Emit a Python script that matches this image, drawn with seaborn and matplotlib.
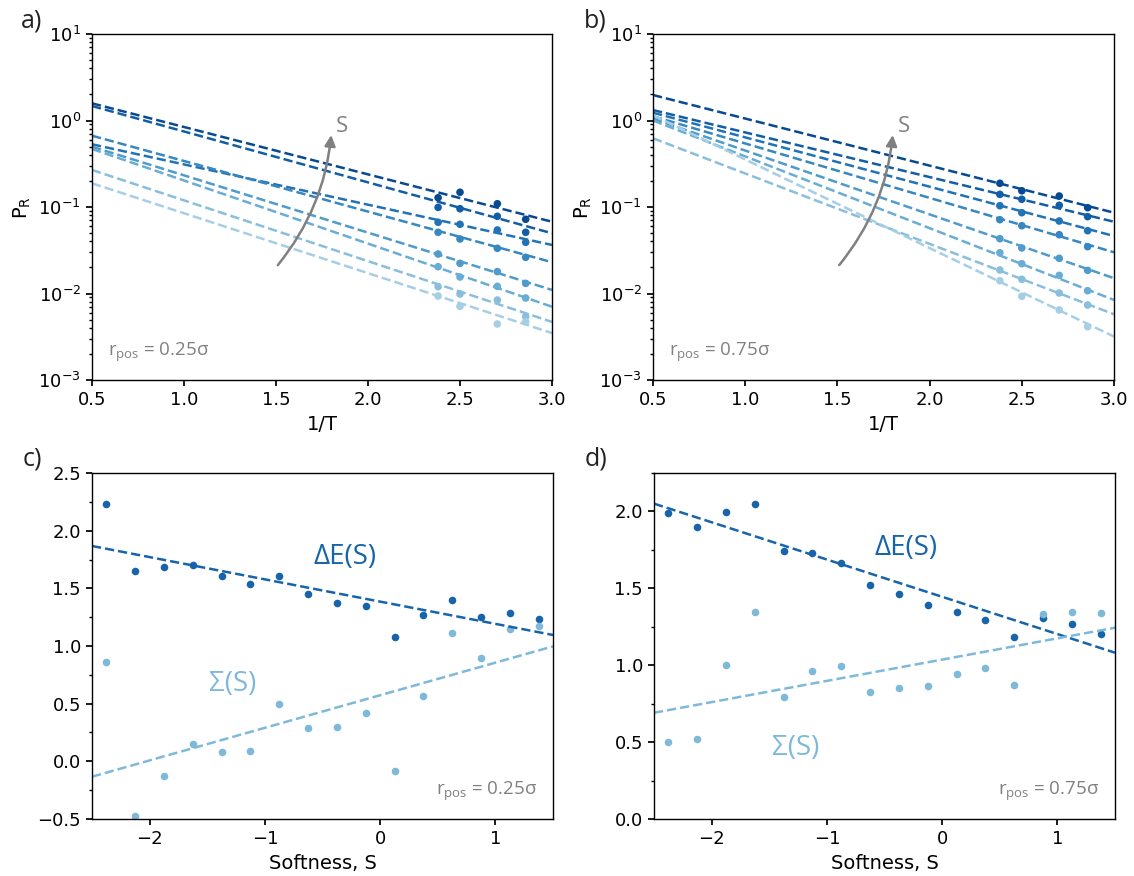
import numpy as np
import pandas as pd
import matplotlib
matplotlib.use("Agg")
import matplotlib.pyplot as plt
from matplotlib.ticker import AutoMinorLocator, MultipleLocator
import seaborn as sns

# ---------------- data ----------------
inv_T = [2.381, 2.5, 2.703, 2.857]          # 1/T of the simulated temperatures

# panel a (r_pos = 0.25 sigma): P_R per softness group, darkest (highest S) first
a_points = [
    [0.128, 0.148, 0.109, 0.0721],
    [0.099, 0.0955, 0.078, 0.0510],
    [0.0666, 0.0631, 0.0542, 0.0391],
    [0.0510, 0.0427, 0.0333, 0.0262],
    [0.0286, 0.0223, 0.0179, 0.0131],
    [0.0204, 0.0155, 0.0121, 0.00887],
    [0.0120, 0.00987, 0.00841, 0.0054],
    [0.00936, 0.00711, 0.00444, 0.00472],
]
# Arrhenius fits P_R = exp(Sigma - dE / T)
a_fit_dE = [1.261, 1.355, 1.072, 1.347, 1.525, 1.680, 1.618, 1.595]
a_fit_Sig = [1.088, 1.063, -0.097, 0.269, 0.065, 0.083, -0.508, -0.874]

# panel b (r_pos = 0.75 sigma)
b_points = [
    [0.188, 0.154, 0.134, 0.0982],
    [0.140, 0.1228, 0.1046, 0.0773],
    [0.1035, 0.0859, 0.0689, 0.0532],
    [0.0713, 0.0608, 0.0478, 0.0348],
    [0.0430, 0.0336, 0.0255, 0.0185],
    [0.0296, 0.0221, 0.0162, 0.01077],
    [0.0187, 0.0146, 0.01014, 0.00736],
    [0.01406, 0.00929, 0.00645, 0.00413],
]
b_fit_dE = [1.253, 1.189, 1.313, 1.449, 1.699, 1.911, 1.874, 2.357]
b_fit_Sig = [1.305, 0.872, 0.864, 0.838, 0.899, 0.956, 0.464, 1.319]

# panels c, d: softness bins
softness = [-2.375, -2.125, -1.875, -1.625, -1.375, -1.125, -0.875, -0.625,
            -0.375, -0.125, 0.125, 0.375, 0.625, 0.875, 1.125, 1.375]
c_dE = [2.23, 1.65, 1.685, 1.705, 1.607, 1.537, 1.607, 1.447,
        1.375, 1.343, 1.082, 1.271, 1.401, 1.250, 1.282, 1.230]
c_Sig = [0.86, -0.47, -0.13, 0.15, 0.08, 0.09, 0.50, 0.29,
         0.30, 0.42, -0.08, 0.57, 1.11, 0.90, 1.15, 1.17]
d_dE = [1.990, 1.897, 1.999, 2.049, 1.744, 1.730, 1.663, 1.520,
        1.460, 1.390, 1.349, 1.297, 1.185, 1.310, 1.271, 1.204]
d_Sig = [0.500, 0.522, 1.001, 1.349, 0.795, 0.962, 0.994, 0.827,
         0.851, 0.864, 0.942, 0.983, 0.869, 1.334, 1.345, 1.341]

# ---------------- style ----------------
sns.set_theme(style="ticks")
plt.rcParams.update({
    "font.family": ["DejaVu Sans"],
    "font.size": 13,
    "axes.edgecolor": "black",
    "axes.linewidth": 1.0,
    "xtick.labelsize": 13,
    "ytick.labelsize": 13,
    "xtick.major.size": 4.5,
    "ytick.major.size": 4.5,
    "xtick.minor.size": 2.5,
    "ytick.minor.size": 2.5,
    "xtick.color": "black",
    "ytick.color": "black",
    "axes.labelcolor": "black",
    "axes.labelsize": 14,
})
ANN_FONT = ["Open Sans", "DejaVu Sans"]

c_E = plt.cm.Blues(0.8)
c_S = plt.cm.Blues(0.45)
palette = [plt.cm.Blues(v) for v in np.linspace(0.9, 0.35, 8)]

W, H = 1134, 876
fig = plt.figure(figsize=(W / 100, H / 100), dpi=100)

def rect(x0, x1, ytop, ybot):
    return [x0 / W, 1 - ybot / H, (x1 - x0) / W, (ybot - ytop) / H]

ax_a = fig.add_axes(rect(92, 552, 34, 380))
ax_b = fig.add_axes(rect(653, 1114, 34, 380))
ax_c = fig.add_axes(rect(92, 553, 473, 819))
ax_d = fig.add_axes(rect(654, 1115, 473, 819))


def arrhenius_panel(ax, pts, dE, Sig, rlabel):
    ax.set_yscale("log")
    n = len(pts)
    pt_df = pd.DataFrame([
        dict(group=k, invT=x, P=y)
        for k, ys in enumerate(pts) for x, y in zip(inv_T, ys)
    ])
    grid = np.linspace(0.5, 3.0, 50)
    fit_df = pd.DataFrame([
        dict(group=k, invT=x, P=np.exp(Sig[k] - dE[k] * x))
        for k in range(n) for x in grid
    ])
    sns.lineplot(data=fit_df, x="invT", y="P", hue="group", palette=palette,
                 legend=False, ax=ax, linestyle="--", linewidth=1.8,
                 estimator=None, sort=False)
    sns.scatterplot(data=pt_df, x="invT", y="P", hue="group", palette=palette,
                    legend=False, ax=ax, s=30, linewidth=0, zorder=3)
    ax.set_xlim(0.5, 3.0)
    ax.set_ylim(1e-3, 1e1)
    ax.xaxis.set_major_locator(MultipleLocator(0.5))
    ax.set_xlabel("1/T")
    ax.set_ylabel(r"$\mathregular{P_R}$")
    ax.annotate("", xy=(1.80, 0.68), xytext=(1.51, 0.0213),
                arrowprops=dict(arrowstyle="-|>", color="gray", lw=1.8,
                                mutation_scale=16,
                                connectionstyle="arc3,rad=0.15",
                                shrinkA=0, shrinkB=0))
    ax.text(1.86, 0.85, "S", color="gray", fontsize=16, ha="center",
            va="center", family=ANN_FONT)
    ax.text(0.035, 0.08, r"$\mathregular{r_{pos}}$ = " + rlabel, transform=ax.transAxes,
            color="gray", fontsize=13.5, ha="left", va="center", family=ANN_FONT)


arrhenius_panel(ax_a, a_points, a_fit_dE, a_fit_Sig, "0.25σ")
arrhenius_panel(ax_b, b_points, b_fit_dE, b_fit_Sig, "0.75σ")


def softness_panel(ax, dE, Sig, ylim, yticks, rlabel, posE, posS):
    ax.set_xlim(-2.5, 1.5)
    ax.set_ylim(*ylim)
    for yv, col in ((dE, c_E), (Sig, c_S)):
        sns.regplot(x=softness, y=yv, ax=ax, ci=None, truncate=False, color=col,
                    scatter_kws=dict(s=30, linewidths=0, alpha=1.0),
                    line_kws=dict(linestyle="--", linewidth=1.8))
    ax.set_xlim(-2.5, 1.5)
    ax.set_ylim(*ylim)
    ax.xaxis.set_major_locator(MultipleLocator(1))
    ax.set_yticks(yticks)
    ax.yaxis.set_minor_locator(AutoMinorLocator(2))
    ax.set_xlabel("Softness, S")
    ax.set_ylabel("")
    ax.text(posE[0], posE[1], "ΔE(S)", color=c_E, fontsize=20, ha="center",
            va="center", family=ANN_FONT)
    ax.text(posS[0], posS[1], "Σ(S)", color=c_S, fontsize=20, ha="center",
            va="center", family=ANN_FONT)
    ax.text(0.965, 0.08, r"$\mathregular{r_{pos}}$ = " + rlabel, transform=ax.transAxes,
            color="gray", fontsize=13.5, ha="right", va="center", family=ANN_FONT)


softness_panel(ax_c, c_dE, c_Sig, (-0.5, 2.5), np.arange(-0.5, 2.51, 0.5),
               "0.25σ", (-0.30, 1.77), (-1.28, 0.67))
softness_panel(ax_d, d_dE, d_Sig, (0.0, 2.25), np.arange(0.0, 2.01, 0.5),
               "0.75σ", (-0.31, 1.76), (-1.27, 0.46))

for lab, (x, y) in zip(["a)", "b)", "c)", "d)"],
                       [(32, 21), (595, 21), (32, 459), (596, 459)]):
    fig.text(x / W, 1 - y / H, lab, fontsize=18, ha="center", va="center",
             family=ANN_FONT, color="#222222")

fig.savefig("out.png", dpi=100)
